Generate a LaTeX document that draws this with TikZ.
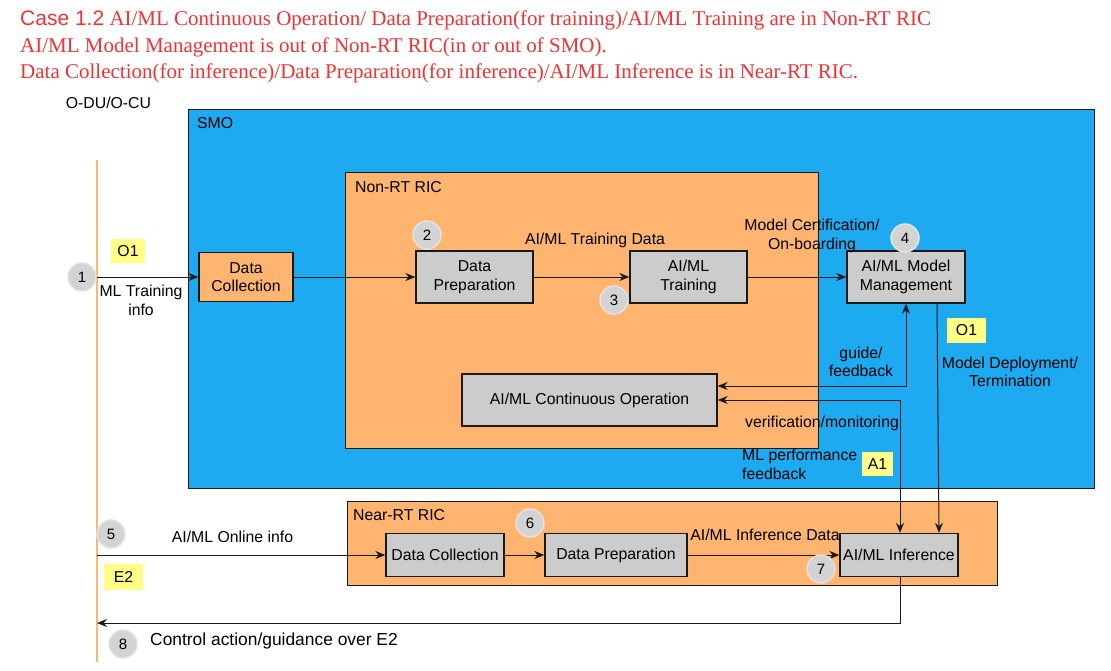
\documentclass[tikz,border=0pt]{standalone}
\usepackage{fontspec}
\setmainfont{Liberation Serif}
\setsansfont{Liberation Sans}
\usetikzlibrary{arrows.meta}
\definecolor{smoblue}{RGB}{30,170,240}
\definecolor{ricorange}{RGB}{255,181,112}
\definecolor{boxgray}{RGB}{204,204,204}
\definecolor{numgray}{RGB}{211,211,211}
\definecolor{numedge}{RGB}{226,226,226}
\definecolor{tagyellow}{RGB}{255,255,136}
\definecolor{titlered}{RGB}{240,50,50}
\definecolor{linedark}{RGB}{25,25,25}
\tikzset{
 lbl/.style={font=\sffamily\fontsize{15.8}{18.5}\selectfont, inner sep=0pt, text=black},
 gbox/.style={draw=linedark, line width=1.3pt, fill=boxgray, lbl, align=center},
 area/.style={draw=linedark, line width=1pt},
 num/.style={circle, fill=numgray, draw=numedge, line width=1.5pt, minimum size=28pt, inner sep=0pt, font=\sffamily\fontsize{15}{16}\selectfont},
 tag/.style={fill=tagyellow, lbl},
 conn/.style={draw=linedark, line width=1pt, -{Stealth[length=10pt,width=8pt]}},
 biconn/.style={draw=linedark, line width=1pt, {Stealth[length=10pt,width=8pt]}-{Stealth[length=10pt,width=8pt]}},
 ttl/.style={font=\fontsize{21}{24}\selectfont, text=titlered, inner sep=0pt, anchor=west},
}
\begin{document}
\begin{tikzpicture}[x=1pt,y=-1pt]
\useasboundingbox (0,0) rectangle (1111,671);
% title
\node[ttl] (t1) at (20,20) {{\sffamily Case 1.2} AI/ML Continuous Operation/ Data Preparation(for training)/AI/ML Training are in Non-RT RIC};
\node[ttl] (t2) at (20,47) {AI/ML Model Management is out of Non-RT RIC(in or out of SMO).};
\node[ttl] (t3) at (20,73) {Data Collection(for inference)/Data Preparation(for inference)/AI/ML Inference is in Near-RT RIC.};
\node[lbl] (odu) at (108.5,103) {O-DU/O-CU};
% O-DU line
\draw[ricorange, line width=1.2pt] (97,160) -- (97,662);
\coordinate (odu1) at (97,277);
\coordinate (odu5) at (97,555);
\coordinate (odu8) at (97,623);
% areas
\draw[area, fill=smoblue] (188,110) rectangle (1094,488);
\node[lbl, anchor=west] (smo) at (197,123) {SMO};
\draw[area, fill=ricorange] (345,173) rectangle (818,448);
\node[lbl, anchor=west] (nonrt) at (355,187) {Non-RT RIC};
\draw[area, fill=ricorange] (347,501) rectangle (997,585);
\node[lbl, anchor=west] (nearrt) at (353,515) {Near-RT RIC};
% boxes
\node[gbox, fill=ricorange, minimum width=94pt, minimum height=49pt] (dc1) at (246,277) {Data\\Collection};
\node[gbox, minimum width=117pt, minimum height=52pt] (dp1) at (474.5,277) {Data\\Preparation};
\node[gbox, minimum width=117pt, minimum height=52pt] (tr) at (688.5,277) {AI/ML\\Training};
\node[gbox, minimum width=118pt, minimum height=52pt] (mm) at (906,277) {AI/ML Model\\Management};
\node[gbox, minimum width=255pt, minimum height=52pt] (co) at (589.5,400) {AI/ML Continuous Operation};
\node[gbox, minimum width=118pt, minimum height=43pt] (dc2) at (445,555) {Data Collection};
\node[gbox, minimum width=142pt, minimum height=43pt] (dp2) at (616,555) {Data Preparation};
\node[gbox, minimum width=118pt, minimum height=43pt] (inf) at (899,555) {AI/ML Inference};
% connectors
\draw[conn] (odu1) -- (dc1.west);
\draw[conn] (dc1.east) -- (dp1.west);
\draw[conn] (dp1.east) -- (tr.west);
\draw[conn] (tr.east) -- (mm.west);
\draw[biconn] ([yshift=14pt]co.east) -| (mm.south);
\draw[biconn] (co.east) -| ([xshift=1pt]inf.north);
\draw[conn] ([xshift=31pt]mm.south) -- ([xshift=40pt]inf.north);
\draw[conn] (odu5) -- (dc2.west);
\draw[conn] (dc2.east) -- (dp2.west);
\draw[conn] (dp2.east) -- (inf.west);
\draw[conn] ([xshift=1pt]inf.south) |- (odu8);
% labels
\node[lbl, align=center] (l1) at (141,300.5) {ML Training\\info};
\node[lbl] (l2) at (595,240) {AI/ML Training Data};
\node[lbl, align=center] (l3) at (812,236) {Model Certification/\\On-boarding};
\node[lbl, align=center] (l4) at (861,362) {guide/\\feedback};
\node[lbl, align=center] (l5) at (1010,372) {Model Deployment/\\Termination};
\node[lbl] (l6) at (822,423) {verification/monitoring};
\node[lbl, align=left, anchor=west] (l7) at (742,464.5) {ML performance\\feedback};
\node[lbl] (l8) at (232.5,537) {AI/ML Online info};
\node[lbl] (l9) at (765,535) {AI/ML Inference Data};
\node[lbl, anchor=west, font=\sffamily\fontsize{17.4}{20}\selectfont] (l10) at (150,641) {Control action/guidance over E2};
% tags
\node[tag, minimum width=34pt, minimum height=24pt] (o1a) at (128,251) {O1};
\node[tag, minimum width=39pt, minimum height=25pt] (o1b) at (966.5,330.5) {O1};
\node[tag, minimum width=31pt, minimum height=24pt] (a1) at (877.5,464) {A1};
\node[tag, minimum width=39pt, minimum height=26pt] (e2) at (123.5,577) {E2};
% numbers
\node[num] (n1) at (82,277) {1};
\node[num] (n2) at (427,235) {2};
\node[num] (n3) at (614,300) {3};
\node[num] (n4) at (905,238) {4};
\node[num] (n5) at (111,534) {5};
\node[num] (n6) at (530,523) {6};
\node[num] (n7) at (821,569) {7};
\node[num] (n8) at (123,644) {8};
\end{tikzpicture}
\end{document}
